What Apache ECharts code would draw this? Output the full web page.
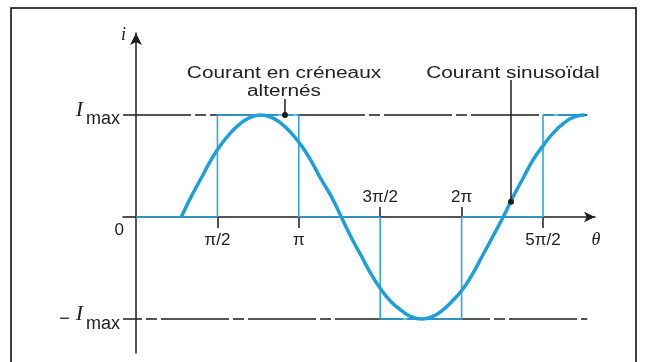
<!DOCTYPE html>
<html>
<head>
<meta charset="utf-8">
<script src="https://cdn.jsdelivr.net/npm/echarts@6/dist/echarts.min.js"></script>
<style>
  html, body { margin: 0; padding: 0; background: #fff; }
  #chart { width: 647px; height: 362px; }
</style>
</head>
<body>
<div id="chart"></div>
<script>
// Phase angle θ in degrees, current in units of Imax
const sineTheta = [
  50, 61, 72, 83, 94, 105, 116, 127, 138,
  149, 160, 171, 182, 193, 204, 216, 227,
  238, 249, 260, 271, 282, 294, 305, 316,
  327, 338, 349, 361, 372, 383, 394, 406,
  417, 428, 439, 451, 462, 473, 484, 496
];
const sineValue = [
  0, 0.20, 0.38, 0.56, 0.71, 0.83, 0.92, 0.98, 1.00,
  0.98, 0.92, 0.83, 0.71, 0.56, 0.38, 0.20, 0,
  -0.20, -0.38, -0.56, -0.71, -0.83, -0.92, -0.98, -1.00,
  -0.98, -0.92, -0.83, -0.71, -0.56, -0.38, -0.20, 0,
  0.20, 0.38, 0.56, 0.71, 0.83, 0.92, 0.98, 1.00
];

const squareTheta = [0, 90, 90, 180, 180, 270, 270, 360, 360, 450, 450, 496];
const squareValue = [0, 0, 1, 1, 0, 0, -1, -1, 0, 0, 1, 1];

const ticksBelow = [90, 180, 450];
const ticksAbove = [270, 360];
const tickText = { 90: 'π/2', 180: 'π', 270: '3π/2', 360: '2π', 450: '5π/2' };

const levelValues = [-1, 0, 1];
const levelSpan = [-14.4, 499];

// leader lines: [θ, current at the dot, current at the top end]
const squareNote = [164.7, 1, 1.157];
const sineNote = [414.6, 0.15, 1.343];

const INK = '#1c1c1c';
const SINE = '#1d9fd9';
const SQUARE = '#2da9de';
const sansFont = 'Liberation Sans';
const serifFont = 'Liberation Serif';

const chart = echarts.init(document.getElementById('chart'), null, { renderer: 'canvas' });

function levelSeries(v, offset) {
  return {
    type: 'line',
    data: levelSpan.map(t => [t, v]),
    symbol: 'none',
    silent: true,
    z: 1,
    lineStyle: { color: INK, width: 1.5, type: [68, 4, 11, 4], dashOffset: offset }
  };
}

function leaderSeries(note) {
  return {
    type: 'line',
    data: [
      { value: [note[0], note[1]], symbol: 'circle', symbolSize: 6 },
      { value: [note[0], note[2]], symbol: 'none' }
    ],
    showAllSymbol: true,
    silent: true,
    z: 5,
    itemStyle: { color: INK },
    lineStyle: { color: INK, width: 1.5 }
  };
}

const labelStyle = { fontFamily: sansFont, fontSize: 17, color: '#222' };
const X_MIN = -14.4, X_MAX = 507.5;

chart.setOption({
  animation: false,
  grid: { left: 123, right: 52, top: 33, bottom: 9, outerBoundsMode: 'none', containLabel: false },
  xAxis: [
    {
      // main θ axis, drawn at i = 0
      type: 'value',
      min: X_MIN,
      max: X_MAX,
      position: 'bottom',
      offset: -136,
      axisLine: {
        onZero: false,
        lineStyle: { color: INK, width: 1.5 },
        symbol: ['none', 'arrow'],
        symbolSize: [8, 11]
      },
      axisTick: { customValues: ticksBelow, length: 11, lineStyle: { color: INK, width: 1.5 } },
      axisLabel: Object.assign({ customValues: ticksBelow, formatter: v => tickText[v] || '', margin: 15 }, labelStyle),
      splitLine: { show: false }
    },
    {
      // ticks and labels drawn above the θ axis
      type: 'value',
      min: X_MIN,
      max: X_MAX,
      position: 'top',
      offset: -184,
      axisLine: { show: false, onZero: false },
      axisTick: { customValues: ticksAbove, length: 10, lineStyle: { color: INK, width: 1.5 } },
      axisLabel: Object.assign({ customValues: ticksAbove, formatter: v => tickText[v] || '', margin: 11 }, labelStyle),
      splitLine: { show: false }
    }
  ],
  yAxis: {
    type: 'value',
    min: -1.333,
    max: 1.804,
    position: 'left',
    offset: -13,
    axisLine: {
      onZero: false,
      lineStyle: { color: INK, width: 1.5 },
      symbol: ['none', 'arrow'],
      symbolSize: [9, 12]
    },
    axisTick: { show: false },
    splitLine: { show: false },
    axisLabel: {
      customValues: levelValues,
      margin: 12,
      formatter: v => v === 0 ? '{z|0}' : (v > 0 ? '{I|I}{m|max}' : '{n|−}{I|I}{m|max}'),
      rich: {
        I: { fontFamily: serifFont, fontStyle: 'italic', fontSize: 22, color: '#222', padding: [0, 3, 9, 0] },
        m: { fontFamily: sansFont, fontSize: 18, color: '#222', padding: [9, 4, 0, 0] },
        n: { fontFamily: sansFont, fontSize: 18, color: '#222', padding: [0, 6, 0, 0] },
        z: { fontFamily: sansFont, fontSize: 17, color: '#222', padding: [26, 0, 0, 0] }
      }
    },
    name: 'i',
    nameLocation: 'end',
    nameGap: -2,
    nameTextStyle: {
      fontFamily: serifFont, fontStyle: 'italic', fontSize: 18, color: '#222',
      align: 'right', verticalAlign: 'middle', padding: [0, 10, 0, 0]
    }
  },
  series: [
    levelSeries(1, 0),
    levelSeries(-1, 49),
    {
      name: 'Courant en créneaux alternés',
      type: 'line',
      xAxisIndex: 0,
      data: squareTheta.map((t, i) => [t, squareValue[i]]),
      symbol: 'none',
      z: 3,
      lineStyle: { color: SQUARE, width: 1.6 }
    },
    {
      name: 'Courant sinusoïdal',
      type: 'line',
      xAxisIndex: 0,
      data: sineTheta.map((t, i) => [t, sineValue[i]]),
      symbol: 'none',
      smooth: true,
      z: 4,
      lineStyle: { color: SINE, width: 3.5, cap: 'butt' }
    },
    leaderSeries(squareNote),
    leaderSeries(sineNote)
  ],
  graphic: [
    {
      type: 'rect',
      shape: { x: 11, y: 8, width: 625, height: 362 },
      style: { fill: 'none', stroke: '#000', lineWidth: 1.5 },
      silent: true
    },
    {
      type: 'text', x: 596, y: 240,
      style: { text: 'θ', fontFamily: serifFont, fontStyle: 'italic', fontSize: 18, fill: '#222', textAlign: 'center', textVerticalAlign: 'middle' }
    },
    {
      type: 'text', x: 284, y: 74, scaleX: 1.3,
      style: { text: 'Courant en créneaux', fontFamily: sansFont, fontSize: 16, fill: '#222', textAlign: 'center', textVerticalAlign: 'middle' }
    },
    {
      type: 'text', x: 284, y: 92, scaleX: 1.3,
      style: { text: 'alternés', fontFamily: sansFont, fontSize: 16, fill: '#222', textAlign: 'center', textVerticalAlign: 'middle' }
    },
    {
      type: 'text', x: 513, y: 74, scaleX: 1.3,
      style: { text: 'Courant sinusoïdal', fontFamily: sansFont, fontSize: 16, fill: '#222', textAlign: 'center', textVerticalAlign: 'middle' }
    }
  ]
});
</script>
</body>
</html>
